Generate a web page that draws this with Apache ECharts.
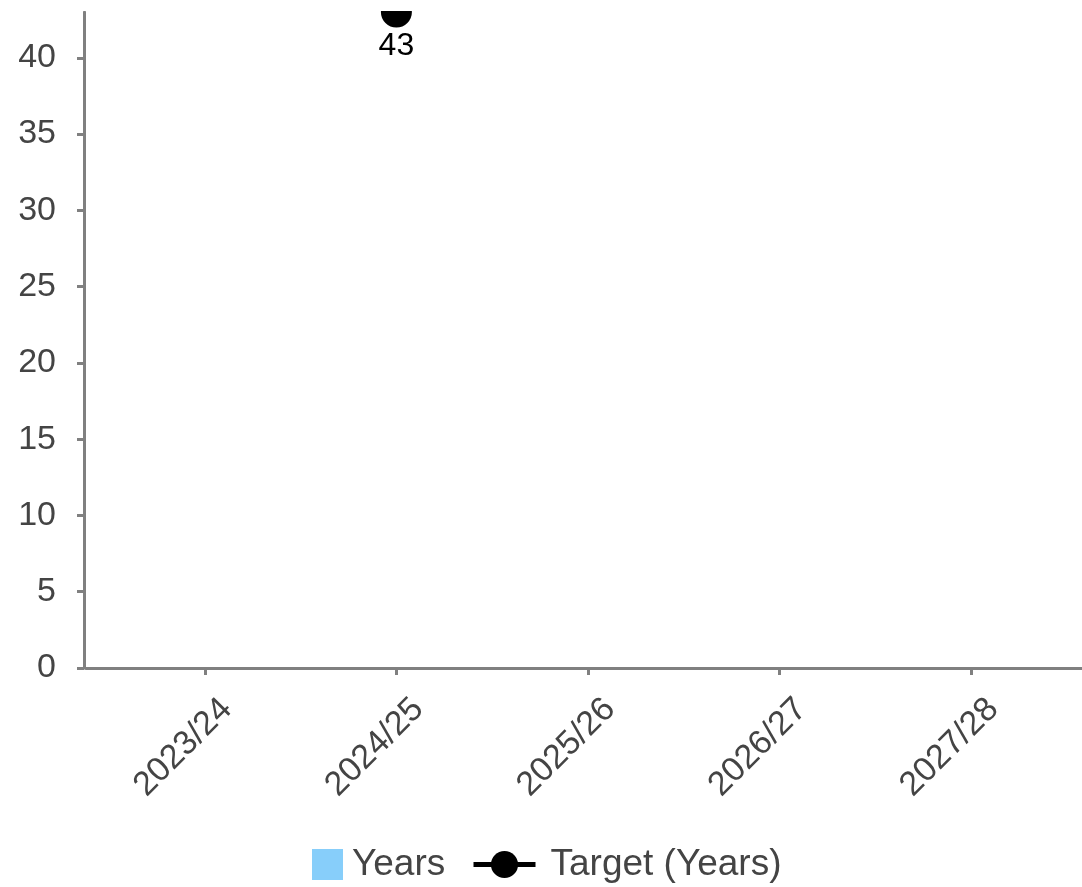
<!DOCTYPE html>
<html>
<head>
<meta charset="utf-8">
<script src="https://cdn.jsdelivr.net/npm/echarts@6/dist/echarts.min.js"></script>
<style>
html,body{margin:0;padding:0;background:#fff;}
#chart{width:1082px;height:887px;}
</style>
</head>
<body>
<div id="chart"></div>
<script>
var categories = ['2023/24', '2024/25', '2025/26', '2026/27', '2027/28'];
var yearsValues = [null, null, null, null, null];
var targetValues = [null, 43, null, null, null];
var yTicks = [0, 5, 10, 15, 20, 25, 30, 35, 40];
var yMax = 43;

var FONT = '"Liberation Sans", Arial, sans-serif';
var AXIS_COLOR = '#808080';
var TEXT_COLOR = '#444444';

var chart = echarts.init(document.getElementById('chart'), null, {renderer: 'canvas'});
chart.setOption({
  animation: false,
  backgroundColor: '#ffffff',
  textStyle: {fontFamily: FONT},
  grid: [
    {left: 109, right: 15, top: 12, bottom: 219, containLabel: false},
    {left: 86, right: 0, top: 12, bottom: 219, containLabel: false}
  ],
  legend: [
    {
      data: ['Years'],
      icon: 'rect',
      left: 307, top: 841,
      itemWidth: 31, itemHeight: 31,
      textStyle: {fontSize: 37, color: TEXT_COLOR, fontFamily: FONT, padding: [0, 0, 0, 4]}
    },
    {
      data: ['Target (Years)'],
      left: 466, top: 841,
      itemWidth: 62, itemHeight: 34,
      lineStyle: {width: 5, color: '#000000'},
      textStyle: {fontSize: 37, color: TEXT_COLOR, fontFamily: FONT, padding: [0, 0, 0, 10]}
    }
  ],
  xAxis: [
    {
      type: 'category',
      gridIndex: 0,
      data: categories,
      boundaryGap: true,
      offset: 3,
      axisLine: {show: false},
      axisTick: {show: true, alignWithLabel: true, length: 7, lineStyle: {color: AXIS_COLOR, width: 3}},
      axisLabel: {rotate: 45, margin: 11, verticalAlign: 'top', padding: [14, 0, 0, 0], fontSize: 34, color: TEXT_COLOR, fontFamily: FONT},
      splitLine: {show: false}
    },
    {
      type: 'value',
      gridIndex: 1,
      offset: 3,
      axisLine: {show: true, lineStyle: {color: AXIS_COLOR, width: 3}},
      axisTick: {show: false},
      axisLabel: {show: false},
      splitLine: {show: false}
    }
  ],
  yAxis: [
    {
      type: 'value',
      gridIndex: 0,
      min: 0,
      max: yMax,
      offset: 25,
      axisLine: {show: true, lineStyle: {color: AXIS_COLOR, width: 3}},
      axisTick: {show: true, length: 7, customValues: yTicks, lineStyle: {color: AXIS_COLOR, width: 3}},
      axisLabel: {show: true, customValues: yTicks, margin: 28, fontSize: 34, color: TEXT_COLOR, fontFamily: FONT},
      splitLine: {show: false}
    },
    {
      type: 'value',
      gridIndex: 1,
      show: false
    }
  ],
  series: [
    {
      name: 'Years',
      type: 'bar',
      xAxisIndex: 0,
      yAxisIndex: 0,
      data: yearsValues,
      itemStyle: {color: '#87CEFA'}
    },
    {
      name: 'Target (Years)',
      type: 'line',
      xAxisIndex: 0,
      yAxisIndex: 0,
      data: targetValues,
      symbol: 'circle',
      symbolSize: 31,
      connectNulls: false,
      itemStyle: {color: '#000000'},
      lineStyle: {color: '#000000', width: 5},
      label: {show: true, position: 'bottom', distance: 3, fontSize: 32, color: '#000000', fontFamily: FONT}
    }
  ],
  graphic: [
    {type: 'rect', left: 0, top: 0, z: 100, shape: {width: 1082, height: 11}, style: {fill: '#ffffff'}}
  ]
});
</script>
</body>
</html>
